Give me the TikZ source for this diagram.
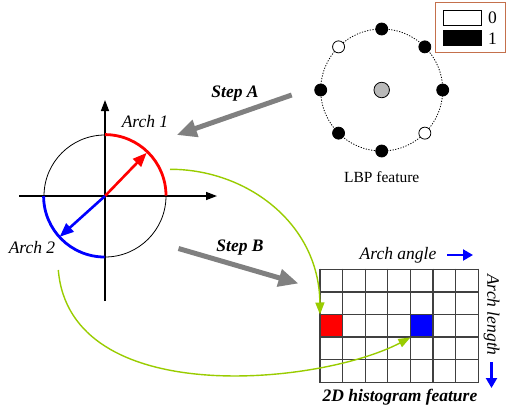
\documentclass[tikz,border=0pt]{standalone}
\usepackage{fontspec}
\setmainfont{Liberation Serif}
\usetikzlibrary{arrows.meta,calc}
\definecolor{ygreen}{RGB}{153,204,0}
\definecolor{legbrd}{RGB}{196,112,76}
\definecolor{stepgray}{RGB}{128,128,128}
\newcommand{\bigfs}{\fontsize{17.5}{20}\selectfont}
\newcommand{\midfs}{\fontsize{15.5}{18}\selectfont}
\tikzset{
  axisline/.style={line width=1.4pt,-{Triangle[length=11pt,width=8pt]}},
  steparrow/.style={line width=5pt,stepgray,-{Triangle[length=20pt,width=17pt]}},
  greenlink/.style={line width=1.4pt,ygreen,-{Triangle[length=12pt,width=9pt]}},
  labeltxt/.style={font=\bigfs\itshape,inner sep=0pt},
  steptxt/.style={font=\bigfs\bfseries\itshape,inner sep=0pt},
  bitone/.style={circle,draw=black,line width=0.8pt,minimum size=12pt,inner sep=0pt,fill=white},
  bitzero/.style={circle,draw=black,line width=0.8pt,minimum size=12pt,inner sep=0pt,fill=black},
  cellbox/.style={minimum size=22.6pt,inner sep=0pt,anchor=north west},
  gridline/.style={draw=black!75,line width=1.3pt},
  bluearrow/.style={blue,line width=2.2pt,-{Triangle[length=10pt,width=11pt]}},
}
\begin{document}
\begin{tikzpicture}[x=1pt,y=-1pt]
\useasboundingbox (0,0) rectangle (508,413);

% ---------- left circle diagram ----------
\coordinate (O) at (105,196);
\node[circle,draw=black,line width=0.8pt,fill=white,minimum size=122pt,inner sep=0pt] (wheel) at (O) {};
\coordinate (xl) at (19,196);
\coordinate (xr) at (217,196);
\coordinate (yb) at (105,301);
\coordinate (yt) at (105,100);
\draw[axisline] (xl) -- (xr);
\draw[axisline] (yb) -- (yt);
\draw[red,line width=2.8pt] (wheel.north) arc[start angle=-90,end angle=0,radius=61];
\draw[blue,line width=2.8pt] (wheel.west) arc[start angle=180,end angle=90,radius=61];
\coordinate (rt) at ($(O)+(-46:60)$);
\coordinate (bt) at ($(O)+(138:61)$);
\draw[red,line width=2.6pt,-{Triangle[length=14pt,width=11pt]}] (O) -- (rt);
\draw[blue,line width=2.6pt,-{Triangle[length=14pt,width=11pt]}] (O) -- (bt);
\node[labeltxt] (arch1) at (145,121.5) {Arch 1};
\node[labeltxt] (arch2) at (32,248) {Arch 2};

% ---------- LBP feature ----------
\coordinate (L) at (381.7,90);
\draw[line width=0.8pt,dash pattern=on 1.2pt off 1.5pt] (L) circle[radius=61];
\node[circle,draw=black,line width=0.8pt,fill=gray!55,minimum size=15.5pt,inner sep=0pt] (lbpc) at (L) {};
\node[bitzero] (d1) at ($(L)+(-90:61)$) {};
\node[bitzero] (d2) at ($(L)+(-45:61)$) {};
\node[bitzero] (d3) at ($(L)+(0:61)$) {};
\node[bitone]  (d4) at ($(L)+(45:61)$) {};
\node[bitzero] (d5) at ($(L)+(90:61)$) {};
\node[bitzero] (d6) at ($(L)+(135:61)$) {};
\node[bitzero] (d7) at ($(L)+(180:61)$) {};
\node[bitone]  (d8) at ($(L)+(-135:61)$) {};
\node[font=\midfs,inner sep=0pt] (lbp) at (381.7,177) {LBP feature};

% ---------- legend ----------
\node[draw=legbrd,line width=1.1pt,minimum width=70pt,minimum height=50pt,inner sep=0pt] (legend) at (470.7,27.7) {};
\node[draw=black,line width=0.8pt,fill=white,minimum width=37.7pt,minimum height=15pt,inner sep=0pt] (leg0) at (462.2,17.5) {};
\node[draw=black,line width=0.8pt,fill=black,minimum width=37.7pt,minimum height=15pt,inner sep=0pt] (leg1) at (462.2,37.5) {};
\node[font=\bigfs,inner sep=0pt] (leg0t) at (492.5,17.3) {0};
\node[font=\bigfs,inner sep=0pt] (leg1t) at (492.5,38.3) {1};

% ---------- steps ----------
\coordinate (sa1) at (291.7,95);
\coordinate (sa2) at (176.7,135);
\draw[steparrow] (sa1) -- (sa2);
\node[steptxt] (stepA) at (235,94) {Step A};
\coordinate (sb1) at (178.5,248.5);
\coordinate (sb2) at (298.5,283.5);
\draw[steparrow] (sb1) -- (sb2);
\node[steptxt] (stepB) at (240,248) {Step B};

% ---------- histogram grid ----------
\node[cellbox,fill=white,minimum width=158.2pt,minimum height=113pt] (hgrid) at (320,269.3) {};
\node[cellbox,fill=red] (redcell) at (320,{269.3+22.6*2}) {};
\node[cellbox,fill=blue] (bluecell) at ({320+22.6*4},{269.3+22.6*2}) {};
\foreach \c in {0,...,7}{
  \draw[gridline] ({320+22.6*\c},268.65) -- ({320+22.6*\c},382.95);
}
\foreach \r in {0,...,5}{
  \draw[gridline] (319.35,{269.3+22.6*\r}) -- (478.85,{269.3+22.6*\r});
}
\node[labeltxt] (angle) at (398,255) {Arch angle};
\coordinate (aa1) at (447,255);
\coordinate (aa2) at (473,255);
\draw[bluearrow] (aa1) -- (aa2);
\node[labeltxt,rotate=-90] (length) at (491.5,315) {Arch length};
\coordinate (al1) at (491.5,362);
\coordinate (al2) at (491.5,388);
\draw[bluearrow] (al1) -- (al2);
\node[steptxt] (hist) at (400,397) {2D histogram feature};

% ---------- green links ----------
\coordinate (g1s) at (170,169.3);
\coordinate (g2s) at (58.3,270);
\draw[greenlink] (g1s) .. controls (245,169) and (319,222) .. (redcell.north west);
\draw[greenlink] (g2s) .. controls (70,410) and (320,385) .. (bluecell.south west);
\end{tikzpicture}
\end{document}
